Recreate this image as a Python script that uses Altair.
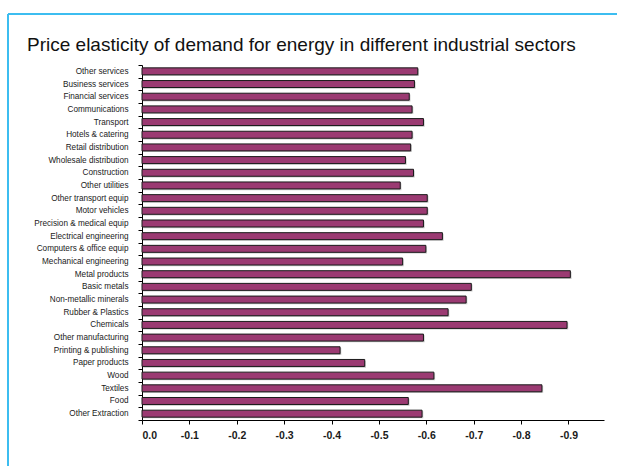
import altair as alt
import pandas as pd

# Industrial sectors, listed top to bottom
sectors = [
    "Other services", "Business services", "Financial services", "Communications",
    "Transport", "Hotels & catering", "Retail distribution", "Wholesale distribution",
    "Construction", "Other utilities", "Other transport equip", "Motor vehicles",
    "Precision & medical equip", "Electrical engineering", "Computers & office equip",
    "Mechanical engineering", "Metal products", "Basic metals", "Non-metallic minerals",
    "Rubber & Plastics", "Chemicals", "Other manufacturing", "Printing & publishing",
    "Paper products", "Wood", "Textiles", "Food", "Other Extraction",
]

# Price elasticity of energy demand for each sector
elasticity = [
    -0.582, -0.575, -0.564, -0.570,
    -0.594, -0.570, -0.567, -0.556,
    -0.573, -0.545, -0.602, -0.602,
    -0.594, -0.634, -0.599,
    -0.550, -0.904, -0.695, -0.684,
    -0.646, -0.897, -0.594, -0.418,
    -0.470, -0.616, -0.844, -0.562, -0.591,
]

x_ticks = [0.0, -0.1, -0.2, -0.3, -0.4, -0.5, -0.6, -0.7, -0.8, -0.9]

chart_title = ["Price elasticity of demand for energy in different industrial sectors"]

df = pd.DataFrame({"sector": sectors, "elasticity": elasticity})

W, H = 462, 355
LEFT, TOP = 142, 65
BAR_BAND = 0.55

y_enc = alt.Y(
    "sector:N",
    sort=sectors,
    title=None,
    scale=alt.Scale(paddingInner=0, paddingOuter=0),
    axis=alt.Axis(
        tickBand="extent",
        tickSize=4,
        tickColor="#000000",
        domainColor="#000000",
        labelFont="Liberation Sans, Arial",
        labelFontSize=8.2,
        labelColor="#1a1a1a",
        labelPadding=10,
        grid=False,
    ),
)

x_enc = alt.X(
    "elasticity:Q",
    title=None,
    scale=alt.Scale(domain=[0, -0.975], nice=False, zero=False),
    axis=alt.Axis(
        values=x_ticks,
        labelExpr="datum.value == 0 ? '0.0' : '-' + format(abs(datum.value), '.1f')",
        tickSize=4,
        tickColor="#000000",
        domainColor="#000000",
        labelFont="Liberation Sans, Arial",
        labelFontSize=10.5,
        labelFontWeight="bold",
        labelColor="#1a1a1a",
        labelPadding=6,
        grid=False,
    ),
)

# Soft grey drop shadow beneath each bar
shadow = alt.Chart(df).mark_bar(
    height={"band": BAR_BAND},
    fill="#9a9a9a",
    opacity=0.55,
    xOffset=1.2,
    yOffset=1.2,
).encode(y=y_enc, x=x_enc)

bars = alt.Chart(df).mark_bar(
    height={"band": BAR_BAND},
    fill="#9b3a72",
    stroke="#1a1a1a",
    strokeWidth=1,
).encode(y=y_enc, x=x_enc)

# Chart heading, drawn as a text mark in the page's top-left corner
heading = alt.Chart(pd.DataFrame({"t": chart_title})).mark_text(
    align="left",
    baseline="alphabetic",
    font="Liberation Sans, Arial",
    fontSize=19,
    color="#111111",
).encode(text="t:N", x=alt.value(27 - LEFT), y=alt.value(51 - TOP))

# Light blue frame along the top and left edges of the page
frame_src = pd.DataFrame({"k": [0]})
frame_left = alt.Chart(frame_src).mark_rule(color="#3cbdf0", strokeWidth=2).encode(
    x=alt.value(8 - LEFT), y=alt.value(14 - TOP), y2=alt.value(466 - TOP)
)
frame_top = alt.Chart(frame_src).mark_rule(color="#3cbdf0", strokeWidth=2).encode(
    x=alt.value(8 - LEFT), x2=alt.value(617 - LEFT), y=alt.value(14 - TOP)
)

chart = alt.layer(shadow, bars, heading, frame_left, frame_top).properties(
    width=W,
    height=H,
    autosize=alt.AutoSizeParams(type="none"),
    padding={"left": LEFT, "top": TOP, "right": 13, "bottom": 46},
    background="white",
).configure_view(stroke=None)

chart.save("out.html", embed_options={"renderer": "svg", "actions": False})
